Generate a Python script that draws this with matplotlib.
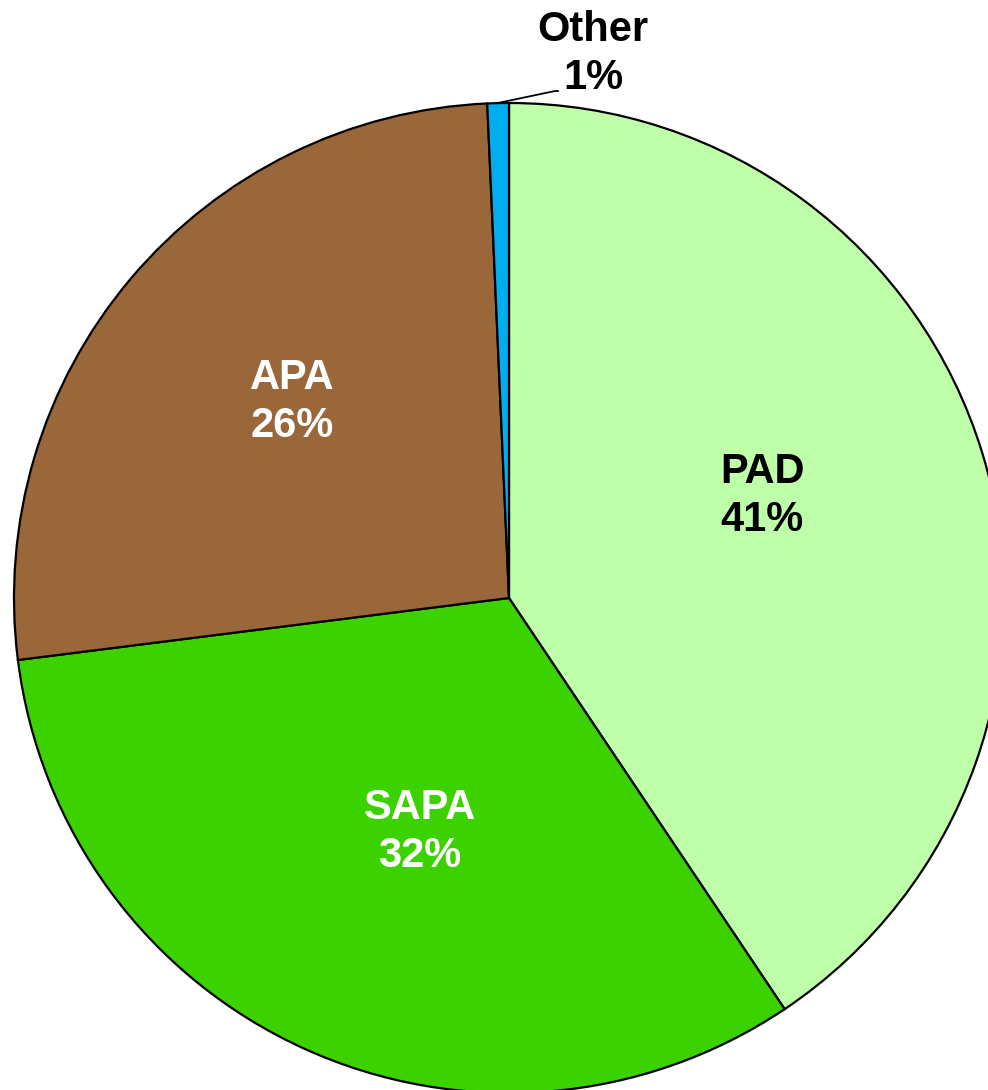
import matplotlib
matplotlib.use('Agg')
import matplotlib.pyplot as plt

# slice data (percent)
labels = ['PAD', 'SAPA', 'APA', 'Other']
values = [40.6, 32.4, 26.3, 0.7]
shown = ['41%', '32%', '26%', '1%']
colors = ['#C0FFAA', '#3CD200', '#99673A', '#00AEEF']
text_colors = ['black', 'white', 'white', 'black']

plt.rcParams['font.family'] = ['Liberation Sans', 'DejaVu Sans']

W, H = 988, 1090
fig = plt.figure(figsize=(W / 100, H / 100), dpi=100)
ax = fig.add_axes([0, 0, 1, 1])

# pie center / radius in pixel units (y measured from the bottom)
cx, cy, r = 509, H - 598, 495
wedges, _ = ax.pie(values, colors=colors, startangle=90, counterclock=False,
                   center=(cx, cy), radius=r,
                   wedgeprops=dict(edgecolor='black', linewidth=1.6))
ax.set_xlim(0, W)
ax.set_ylim(0, H)
ax.set_aspect('auto')
ax.axis('off')

# label positions in pixel coordinates (from top-left)
label_pos = [(762, 496), (420, 832), (292, 402)]
for i, (x, y) in enumerate(label_pos):
    ax.text(x, H - y, labels[i] + '\n' + shown[i], ha='center', va='center',
            fontsize=30, fontweight='bold', color=text_colors[i], linespacing=1.28)

# small slice gets an outside label with a leader line
ax.text(593, H - 54, labels[3] + '\n' + shown[3], ha='center', va='center',
        fontsize=30, fontweight='bold', color=text_colors[3], linespacing=1.28)
ax.plot([498, 555, 558], [H - 103, H - 91, H - 91], color='black', lw=1.3)

fig.savefig('out.png', dpi=100)
